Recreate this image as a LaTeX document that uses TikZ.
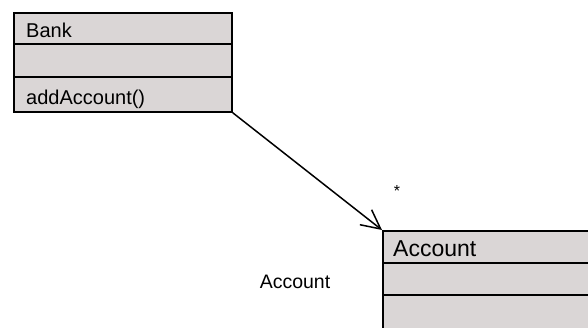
\documentclass[tikz,border=0pt]{standalone}
\usepackage{fontspec}
\setmainfont{Liberation Sans}
\usetikzlibrary{arrows.meta}
\definecolor{boxfill}{RGB}{218,214,214}
\begin{document}
\begin{tikzpicture}[x=1pt,y=-1pt,
  classbox/.style={draw=black,line width=1.8pt,fill=boxfill,minimum width=#1,inner sep=0pt,anchor=north west},
  rowtext/.style={anchor=base west,inner sep=0pt,font=\fontsize{20}{20}\selectfont},
  divider/.style={line width=1.5pt}]
\useasboundingbox (0,0) rectangle (588,327);
% Bank class
\node[classbox=218pt,minimum height=99pt] (bank) at (13,12) {};
\draw[divider] (13,44) -- (231,44);
\draw[divider] (13,77) -- (231,77);
\node[rowtext] (bankname) at (26,37.5) {Bank};
\node[rowtext] (bankop) at (26,104) {addAccount()};
% Account class (cut off)
\node[classbox=220pt,minimum height=110pt] (acct) at (382,230) {};
\draw[divider] (382,263) -- (600,263);
\draw[divider] (382,295) -- (600,295);
\node[rowtext,font=\fontsize{23}{23}\selectfont] (acctname) at (393,256) {Account};
% association
\draw[line width=1.5pt,-{Straight Barb[length=19pt,width=19pt,line width=1.5pt]}] (bank.south east) -- (acct.north west);
\node[font=\fontsize{16}{16}\selectfont,inner sep=0pt] (mult) at (397,191) {*};
\node[font=\fontsize{19.5}{19.5}\selectfont,inner sep=0pt] (rolelabel) at (295,282) {Account};
\end{tikzpicture}
\end{document}
